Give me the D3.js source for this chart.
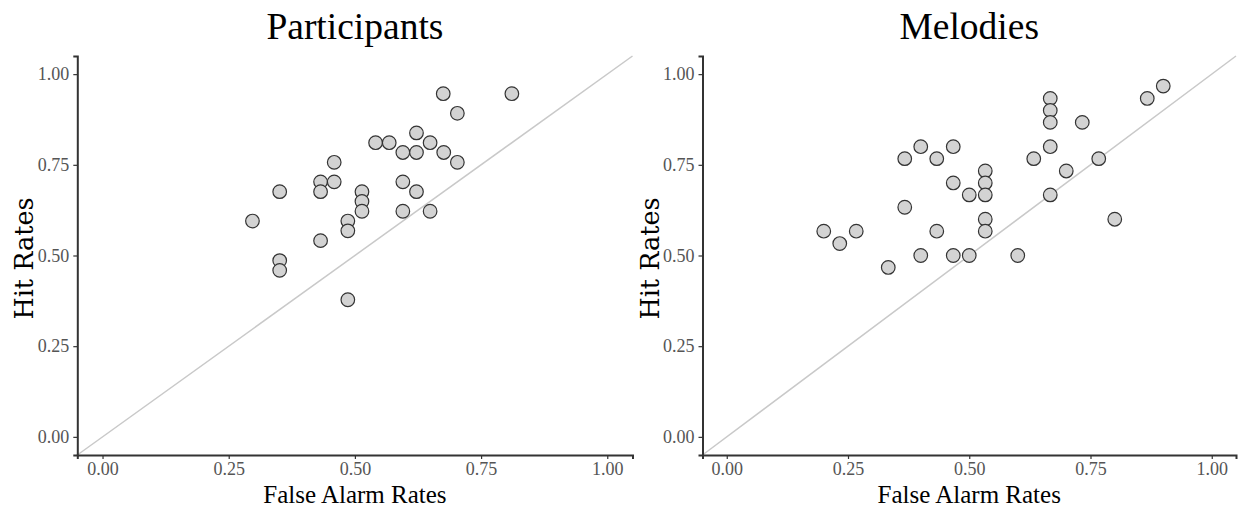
<!DOCTYPE html>
<html>
<head>
<meta charset="utf-8">
<script src="https://cdn.jsdelivr.net/npm/d3@7"></script>
<style>
  body { margin: 0; background: #fff; }
  text { font-family: "Liberation Serif", serif; }
</style>
</head>
<body>
<svg width="1239" height="509"></svg>
<script>
// hit / false alarm rates
const partFA  = [0.675, 0.811, 0.703, 0.622, 0.541, 0.568, 0.649, 0.595, 0.622, 0.676,
                 0.703, 0.459, 0.432, 0.459, 0.432, 0.351, 0.514, 0.514, 0.514, 0.595,
                 0.622, 0.595, 0.649, 0.297, 0.486, 0.486, 0.432, 0.351, 0.351, 0.486];
const partHit = [0.946, 0.946, 0.892, 0.838, 0.811, 0.811, 0.811, 0.784, 0.784, 0.784,
                 0.757, 0.757, 0.703, 0.703, 0.676, 0.676, 0.676, 0.649, 0.622, 0.703,
                 0.676, 0.622, 0.622, 0.595, 0.595, 0.568, 0.541, 0.486, 0.459, 0.378];

const melFA  = [0.667, 0.667, 0.667, 0.867, 0.900, 0.733, 0.667, 0.400, 0.467, 0.367,
                0.433, 0.633, 0.767, 0.533, 0.700, 0.467, 0.533, 0.500, 0.533, 0.667,
                0.367, 0.533, 0.800, 0.200, 0.267, 0.433, 0.533, 0.233, 0.400, 0.467,
                0.500, 0.600, 0.333];
const melHit = [0.933, 0.900, 0.867, 0.933, 0.967, 0.867, 0.800, 0.800, 0.800, 0.767,
                0.767, 0.767, 0.767, 0.733, 0.733, 0.700, 0.700, 0.667, 0.667, 0.667,
                0.633, 0.600, 0.600, 0.567, 0.567, 0.567, 0.567, 0.533, 0.500, 0.500,
                0.500, 0.500, 0.467];

const ticks = [0, 0.25, 0.5, 0.75, 1];
const fmt = d3.format(".2f");

const svg = d3.select("svg");

function panel(title, fa, hit, x0, x1) {
  const x = d3.scaleLinear().domain([-0.05, 1.05]).range([x0, x1]);
  const y = d3.scaleLinear().domain([-0.05, 1.05]).range([455, 56]);
  const g = svg.append("g");

  // diagonal y = x
  g.append("line")
    .attr("x1", x(-0.05)).attr("y1", y(-0.05))
    .attr("x2", x(1.05)).attr("y2", y(1.05))
    .attr("stroke", "#c9c9c9").attr("stroke-width", 1.5);

  const xAxis = g.append("g")
    .attr("transform", "translate(0," + y(-0.05) + ")")
    .call(d3.axisBottom(x).tickValues(ticks).tickFormat(fmt).tickSize(4).tickPadding(3));
  const yAxis = g.append("g")
    .attr("transform", "translate(" + x(-0.05) + ",0)")
    .call(d3.axisLeft(y).tickValues(ticks).tickFormat(fmt).tickSize(4).tickPadding(4));

  [xAxis, yAxis].forEach(a => {
    a.select(".domain").attr("stroke", "#333").attr("stroke-width", 2);
    a.selectAll(".tick line").attr("stroke", "#333").attr("stroke-width", 1.2);
    a.selectAll(".tick text")
      .attr("fill", "#555")
      .style("font-family", "Liberation Serif")
      .style("font-size", "18px");
  });

  g.selectAll("circle")
    .data(fa.map((d, i) => [d, hit[i]]))
    .enter()
    .append("circle")
    .attr("cx", d => x(d[0]))
    .attr("cy", d => y(d[1]))
    .attr("r", 6.8)
    .attr("fill", "#d3d3d3")
    .attr("stroke", "#333")
    .attr("stroke-width", 1.2);

  const cx = (x0 + x1) / 2;
  g.append("text")
    .attr("x", cx).attr("y", 39)
    .attr("text-anchor", "middle")
    .style("font-size", "37.5px")
    .text(title);

  g.append("text")
    .attr("x", cx).attr("y", 503)
    .attr("text-anchor", "middle")
    .style("font-size", "25px")
    .text("False Alarm Rates");

  g.append("text")
    .attr("transform", "translate(" + (x0 - 44) + "," + (y(0.5) + 3) + ") rotate(-90)")
    .attr("text-anchor", "middle")
    .style("font-family", "DejaVu Serif")
    .style("font-size", "25.5px")
    .text("Hit Rates");
}

panel("Participants", partFA, partHit, 77.3, 632.5);
panel("Melodies", melFA, melHit, 702.5, 1236);
</script>
</body>
</html>
